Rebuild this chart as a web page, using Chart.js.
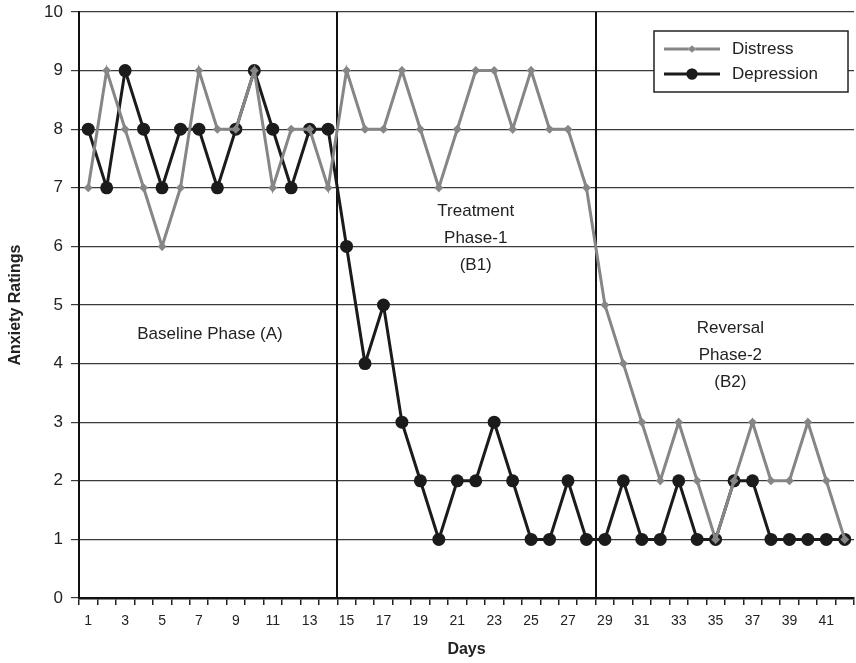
<!DOCTYPE html>
<html>
<head>
<meta charset="utf-8">
<script src="https://cdn.jsdelivr.net/npm/chart.js@4.4.0/dist/chart.umd.min.js"></script>
<style>
    html, body { margin: 0; padding: 0; background: #fff; }
    #wrap { width: 856px; height: 663px; }
</style>
</head>
<body>
<div id="wrap"><canvas id="anxietyChart" width="856" height="663"></canvas></div>
<script>
// Chart data
const days = [1, 2, 3, 4, 5, 6, 7, 8, 9, 10, 11, 12, 13, 14, 15, 16, 17, 18, 19, 20, 21,
              22, 23, 24, 25, 26, 27, 28, 29, 30, 31, 32, 33, 34, 35, 36, 37, 38, 39, 40, 41, 42];
const distress = [7, 9, 8, 7, 6, 7, 9, 8, 8, 9, 7, 8, 8, 7, 9, 8, 8, 9, 8, 7, 8,
                  9, 9, 8, 9, 8, 8, 7, 5, 4, 3, 2, 3, 2, 1, 2, 3, 2, 2, 3, 2, 1];
const depression = [8, 7, 9, 8, 7, 8, 8, 7, 8, 9, 8, 7, 8, 8, 6, 4, 5, 3, 2, 1, 2,
                    2, 3, 2, 1, 1, 2, 1, 1, 2, 1, 1, 2, 1, 1, 2, 2, 1, 1, 1, 1, 1];
const yTicks = [0, 1, 2, 3, 4, 5, 6, 7, 8, 9, 10];
// first day of each new phase (a vertical line is drawn before it)
const phaseStarts = [15, 29];

const FONT = "'Liberation Sans', Arial, sans-serif";
const TEXT = '#222';

// phase captions, placed in data units (category index, rating)
const phaseNotes = [
    { lines: ['Baseline Phase (A)'], x: 6.6, y: 4.5 },
    { lines: ['Treatment', 'Phase-1', '(B1)'], x: 21, y: 6.6 },
    { lines: ['Reversal', 'Phase-2', '(B2)'], x: 34.8, y: 4.6 }
];

const phaseLines = {
    id: 'phaseLines',
    beforeDatasetsDraw(chart) {
        const { ctx, chartArea, scales } = chart;
        ctx.save();
        ctx.strokeStyle = '#111';
        ctx.lineWidth = 2;
        phaseStarts.forEach(d => {
            const i = days.indexOf(d);
            const x = Math.round((scales.x.getPixelForValue(i - 1) + scales.x.getPixelForValue(i)) / 2);
            ctx.beginPath();
            ctx.moveTo(x, chartArea.top);
            ctx.lineTo(x, chartArea.bottom);
            ctx.stroke();
        });
        ctx.restore();
    }
};

const phaseLabels = {
    id: 'phaseLabels',
    afterDraw(chart) {
        const { ctx, scales } = chart;
        ctx.save();
        ctx.fillStyle = TEXT;
        ctx.font = '17px ' + FONT;
        ctx.textAlign = 'center';
        ctx.textBaseline = 'middle';
        phaseNotes.forEach(n => {
            const x = scales.x.getPixelForValue(n.x);
            const y = scales.y.getPixelForValue(n.y);
            n.lines.forEach((t, k) => ctx.fillText(t, x, y + k * 27));
        });
        ctx.restore();
    }
};

// legend in a box inside the plot, top right
const boxLegend = {
    id: 'boxLegend',
    afterDraw(chart) {
        const { ctx, chartArea } = chart;
        const w = 194, h = 61;
        const x0 = chartArea.right - w - 6, y0 = chartArea.top + 19;
        ctx.save();
        ctx.fillStyle = '#fff';
        ctx.fillRect(x0, y0, w, h);
        ctx.strokeStyle = '#222';
        ctx.lineWidth = 1.5;
        ctx.strokeRect(x0, y0, w, h);
        ctx.font = '17px ' + FONT;
        ctx.textBaseline = 'middle';
        chart.data.datasets.forEach((ds, k) => {
            const y = y0 + 18 + k * 25;
            ctx.strokeStyle = ds.borderColor;
            ctx.lineWidth = ds.borderWidth;
            ctx.beginPath();
            ctx.moveTo(x0 + 10, y);
            ctx.lineTo(x0 + 66, y);
            ctx.stroke();
            Chart.helpers.drawPoint(ctx, {
                pointStyle: ds.pointStyle, radius: ds.pointRadius * 0.85,
                borderWidth: 0, rotation: 0
            }, x0 + 38, y);
            ctx.fillStyle = ds.backgroundColor;
            ctx.fill();
            ctx.fillStyle = TEXT;
            ctx.fillText(ds.label, x0 + 78, y);
        });
        ctx.restore();
    }
};

const ctx = document.getElementById('anxietyChart');
new Chart(ctx, {
    type: 'line',
    data: {
        labels: days,
        datasets: [{
            label: 'Distress',
            data: distress,
            borderColor: '#868686',
            backgroundColor: '#868686',
            borderWidth: 3,
            pointStyle: 'rectRot',
            pointRadius: 4.5,
            pointBorderWidth: 0,
            tension: 0
        }, {
            label: 'Depression',
            data: depression,
            borderColor: '#1b1b1b',
            backgroundColor: '#1b1b1b',
            borderWidth: 3,
            pointStyle: 'circle',
            pointRadius: 6.5,
            pointBorderWidth: 0,
            tension: 0
        }]
    },
    options: {
        responsive: false,
        animation: false,
        layout: { autoPadding: false, padding: { top: 12, right: 2, left: 0, bottom: 0 } },
        plugins: {
            legend: { display: false },
            tooltip: { enabled: false }
        },
        scales: {
            x: {
                offset: true,
                ticks: {
                    autoSkip: false, maxRotation: 0, minRotation: 0,
                    color: TEXT, font: { family: FONT, size: 14 }, padding: 8,
                    callback: (v, i) => (i % 2 === 0 ? days[i] : '')
                },
                grid: { offset: true, drawOnChartArea: false, drawTicks: true, tickLength: 7, color: '#222', lineWidth: 1.5 },
                border: { color: '#111', width: 2.5 },
                title: { display: true, text: 'Days', color: TEXT, font: { family: FONT, size: 16, weight: 'bold' }, padding: { top: 6, bottom: 4 } },
                afterFit: s => { s.height = 65; s.paddingLeft = 0; s.paddingRight = 0; }
            },
            y: {
                min: 0,
                max: 10,
                afterBuildTicks: s => { s.ticks = yTicks.map(v => ({ value: v })); },
                ticks: { color: TEXT, font: { family: FONT, size: 17 }, padding: 8 },
                grid: { color: '#3a3a3a', lineWidth: 1.2, tickLength: 8, drawTicks: true },
                border: { color: '#111', width: 2 },
                title: { display: true, text: 'Anxiety Ratings', color: TEXT, font: { family: FONT, size: 16, weight: 'bold' }, padding: { top: 6, bottom: 0 } },
                afterFit: s => { s.width = 79; s.paddingTop = 0; s.paddingBottom = 0; }
            }
        }
    },
    plugins: [phaseLines, phaseLabels, boxLegend]
});
</script>
</body>
</html>
